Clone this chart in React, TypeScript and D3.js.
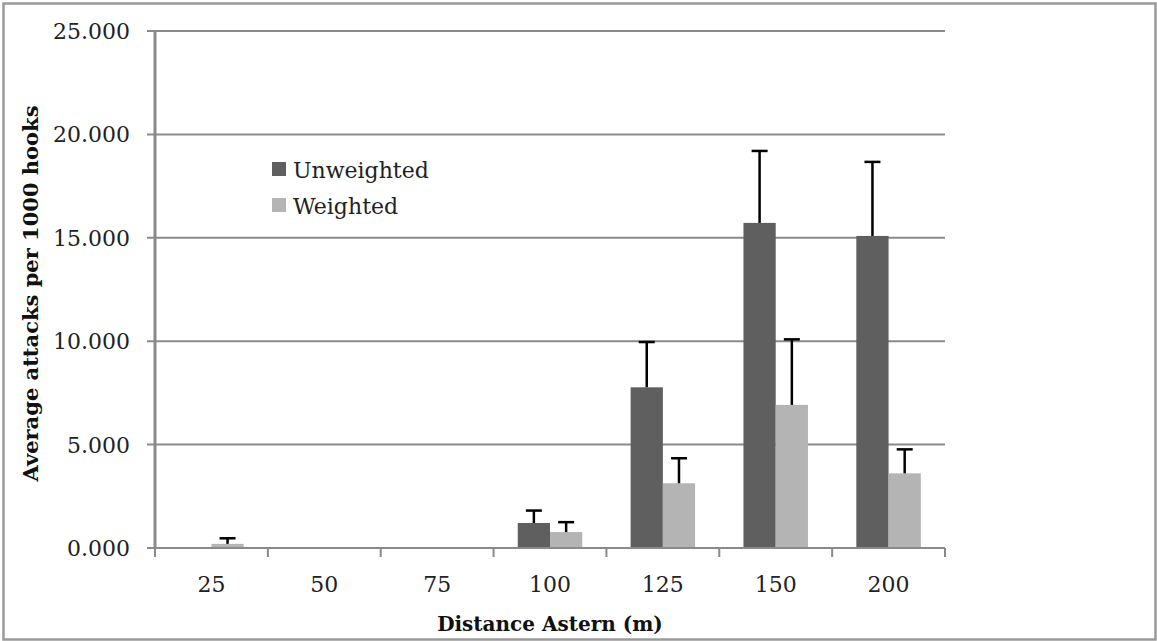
import { useEffect, useRef } from "react"
import * as d3 from "d3"

const categories = ["25", "50", "75", "100", "125", "150", "200"]
const seriesNames = ["Unweighted", "Weighted"]
const unweighted = [0, 0, 0, 1.21, 7.77, 15.72, 15.09]
const unweightedErr = [0, 0, 0, 0.6, 2.19, 3.48, 3.58]
const weighted = [0.2, 0, 0, 0.77, 3.13, 6.92, 3.61]
const weightedErr = [0.27, 0, 0, 0.48, 1.21, 3.17, 1.16]
const yTicks = [0, 5, 10, 15, 20, 25]

const colors = ["#5f5f5f", "#b4b4b4"]
const gridColor = "#8a8a8a"
const font = "'DejaVu Serif', serif"

export default function App() {
  const svgRef = useRef<SVGSVGElement>(null)

  useEffect(() => {
    const svg = d3.select(svgRef.current)
    svg.selectAll("*").remove()

    const width = 1157
    const height = 641
    const margin = { top: 31, right: 212, bottom: 93, left: 155 }
    const plotRight = width - margin.right
    const plotBottom = height - margin.bottom

    // frame
    svg.append("rect")
      .attr("x", 3.5).attr("y", 3.5)
      .attr("width", width - 5).attr("height", height - 5)
      .attr("fill", "white")
      .attr("stroke", "#9a9a9a")
      .attr("stroke-width", 2.5)

    const x = d3.scaleBand<string>()
      .domain(categories)
      .range([margin.left, plotRight])

    const xInner = d3.scaleBand<string>()
      .domain(seriesNames)
      .range([0, x.bandwidth()])
      .paddingOuter(0.75)

    const y = d3.scaleLinear()
      .domain([0, 25])
      .range([plotBottom, margin.top])

    // grid lines
    svg.append("g")
      .selectAll("line")
      .data(yTicks)
      .enter().append("line")
      .attr("x1", margin.left - 8)
      .attr("x2", plotRight)
      .attr("y1", d => y(d))
      .attr("y2", d => y(d))
      .attr("stroke", gridColor)
      .attr("stroke-width", 2)

    // y tick labels
    svg.append("g")
      .selectAll("text")
      .data(yTicks)
      .enter().append("text")
      .attr("x", 130)
      .attr("y", d => y(d))
      .attr("dy", "0.36em")
      .attr("text-anchor", "end")
      .style("font-family", font)
      .style("font-size", "22px")
      .style("fill", "#222")
      .text(d => d3.format(".3f")(d))

    // y axis line
    svg.append("line")
      .attr("x1", margin.left).attr("x2", margin.left)
      .attr("y1", margin.top).attr("y2", plotBottom)
      .attr("stroke", gridColor)
      .attr("stroke-width", 3)

    // bars
    const series = [
      { name: seriesNames[0], values: unweighted, errs: unweightedErr },
      { name: seriesNames[1], values: weighted, errs: weightedErr },
    ]

    series.forEach((s, si) => {
      const g = svg.append("g")
      g.selectAll("rect")
        .data(categories)
        .enter().append("rect")
        .attr("x", (c) => x(c)! + xInner(s.name)!)
        .attr("y", (c, i) => y(s.values[i]))
        .attr("width", xInner.bandwidth())
        .attr("height", (c, i) => plotBottom - y(s.values[i]))
        .attr("fill", colors[si])

      categories.forEach((c, i) => {
        if (!s.errs[i]) return
        const cx = x(c)! + xInner(s.name)! + xInner.bandwidth() / 2
        const top = y(s.values[i] + s.errs[i])
        g.append("line")
          .attr("x1", cx).attr("x2", cx)
          .attr("y1", y(s.values[i])).attr("y2", top)
          .attr("stroke", "black").attr("stroke-width", 2.5)
        g.append("line")
          .attr("x1", cx - 8).attr("x2", cx + 8)
          .attr("y1", top).attr("y2", top)
          .attr("stroke", "black").attr("stroke-width", 2.5)
      })
    })

    // x axis line + ticks
    svg.append("line")
      .attr("x1", margin.left).attr("x2", plotRight)
      .attr("y1", plotBottom).attr("y2", plotBottom)
      .attr("stroke", gridColor)
      .attr("stroke-width", 2)

    const tickXs = categories.map(c => x(c)!).concat([plotRight])
    svg.append("g")
      .selectAll("line")
      .data(tickXs)
      .enter().append("line")
      .attr("x1", d => d).attr("x2", d => d)
      .attr("y1", plotBottom).attr("y2", plotBottom + 9)
      .attr("stroke", gridColor)
      .attr("stroke-width", 2)

    svg.append("g")
      .selectAll("text")
      .data(categories)
      .enter().append("text")
      .attr("x", c => x(c)! + x.bandwidth() / 2)
      .attr("y", 592)
      .attr("text-anchor", "middle")
      .style("font-family", font)
      .style("font-size", "22px")
      .style("fill", "#222")
      .text(c => c)

    // axis titles
    svg.append("text")
      .attr("x", (margin.left + plotRight) / 2)
      .attr("y", 631)
      .attr("text-anchor", "middle")
      .style("font-family", font)
      .style("font-size", "20px")
      .style("font-weight", "bold")
      .style("fill", "#111")
      .text("Distance Astern (m)")

    svg.append("text")
      .attr("transform", `translate(38, ${(97 + 490) / 2}) rotate(-90)`)
      .attr("text-anchor", "middle")
      .style("font-family", font)
      .style("font-size", "21px")
      .style("font-weight", "bold")
      .style("fill", "#111")
      .text("Average attacks per 1000 hooks")

    // legend
    const legend = svg.append("g").attr("transform", "translate(272, 162)")
    seriesNames.forEach((name, i) => {
      const item = legend.append("g").attr("transform", `translate(0, ${i * 36})`)
      item.append("rect")
        .attr("width", 14).attr("height", 14)
        .attr("fill", colors[i])
      item.append("text")
        .attr("x", 21)
        .attr("y", 16)
        .style("font-family", font)
        .style("font-size", "22px")
        .style("fill", "#222")
        .text(name)
    })
  }, [])

  return (
    <svg
      ref={svgRef}
      width={1157}
      height={641}
      style={{ position: "absolute", left: 0, top: 0, background: "white" }}
    />
  )
}
